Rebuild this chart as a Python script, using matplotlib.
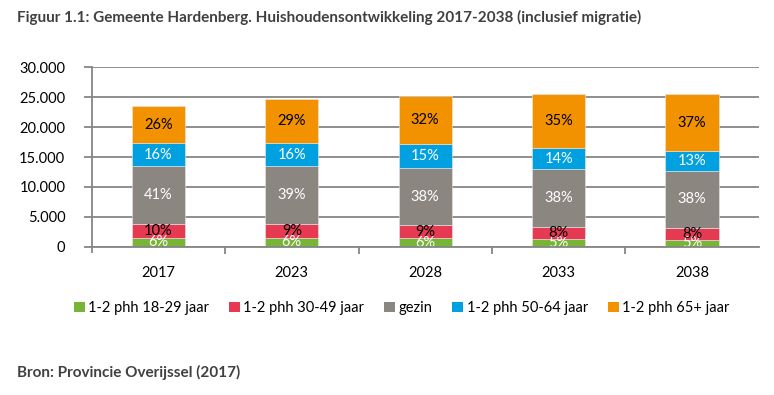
#! /usr/bin/env python

import numpy as np
import matplotlib
matplotlib.use("Agg")
import matplotlib.pyplot as plt
from matplotlib.patches import Patch
from matplotlib.ticker import FuncFormatter

plt.rcParams['font.family'] = ['Lato', 'DejaVu Sans']

# data (households)
years = ['2017', '2023', '2028', '2033', '2038']
series = ['1-2 phh 18-29 jaar', '1-2 phh 30-49 jaar', 'gezin',
          '1-2 phh 50-64 jaar', '1-2 phh 65+ jaar']
phh_18_29 = [1450, 1450, 1400, 1240, 1150]
phh_30_49 = [2350, 2290, 2180, 2050, 1950]
gezin = [9640, 9700, 9580, 9650, 9640]
phh_50_64 = [3850, 3950, 3960, 3510, 3240]
phh_65 = [6290, 7260, 8030, 9030, 9580]
pct_labels = [
    ['6%', '6%', '6%', '5%', '5%'],
    ['10%', '9%', '9%', '8%', '8%'],
    ['41%', '39%', '38%', '38%', '38%'],
    ['16%', '16%', '15%', '14%', '13%'],
    ['26%', '29%', '32%', '35%', '37%'],
]

colors = ['#76b535', '#e63a52', '#8c8681', '#00a0e1', '#f39200']
label_colors = ['white', 'black', 'white', 'white', 'black']

fig = plt.figure(figsize=(7.74, 3.95), dpi=100)
ax = fig.add_axes([0.1185, 0.3754, 0.8617, 0.4542])

x = np.arange(len(years))
bottom = np.zeros(len(years))
for vals, col, lc, labs in zip([phh_18_29, phh_30_49, gezin, phh_50_64, phh_65],
                               colors, label_colors, pct_labels):
    vals = np.array(vals, dtype=float)
    ax.bar(x, vals, 0.4, bottom=bottom, color=col, edgecolor='#e8e8e8',
           linewidth=0.4, zorder=3)
    for xi, b, v, lab in zip(x, bottom, vals, labs):
        ax.text(xi, b + v / 2, lab, ha='center', va='center', fontsize=10.5,
                color=lc, zorder=4, clip_on=True)
    bottom += vals

gray = '#868686'
ax.set_xlim(-0.5, len(years) - 0.5)
ax.set_ylim(0, 30000)
ax.set_yticks(np.arange(0, 30001, 5000))
ax.yaxis.set_major_formatter(FuncFormatter(lambda v, p: f'{int(v):,}'.replace(',', '.')))
ax.set_xticks(x)
ax.set_xticklabels(years)
ax.set_xticks(np.arange(0.5, len(years) - 0.5, 1), minor=True)
ax.tick_params(axis='x', which='major', length=0, pad=14, labelsize=10.5)
ax.tick_params(axis='x', which='minor', length=5, width=1.3, color=gray)
ax.tick_params(axis='y', length=6, width=1.3, color=gray, pad=13, labelsize=10.5)
ax.grid(axis='y', color=gray, linewidth=1.3, zorder=0)
for s in ['top', 'right']:
    ax.spines[s].set_visible(False)
for s in ['left', 'bottom']:
    ax.spines[s].set_color(gray)
    ax.spines[s].set_linewidth(1.3)
    ax.spines[s].set_zorder(5)
ax.spines['left'].set_bounds(-800, 30000)

handles = [Patch(facecolor=c, edgecolor='none') for c in colors]
fig.legend(handles, series, loc='center', bbox_to_anchor=(0.519, 0.22), ncol=5,
           frameon=False, fontsize=10.5, handlelength=0.75, handleheight=0.75,
           handletextpad=0.25, columnspacing=1.35, borderpad=0)

fig.text(16.7 / 774, 1 - 17 / 395,
         'Figuur 1.1: Gemeente Hardenberg. Huishoudensontwikkeling 2017-2038 (inclusief migratie)',
         fontsize=11, fontweight='bold', color='#404040', ha='left', va='center')
fig.text(16.7 / 774, 1 - 372 / 395, 'Bron: Provincie Overijssel (2017)',
         fontsize=11, fontweight='bold', color='#404040', ha='left', va='center')

plt.savefig('out.png', dpi=100)
